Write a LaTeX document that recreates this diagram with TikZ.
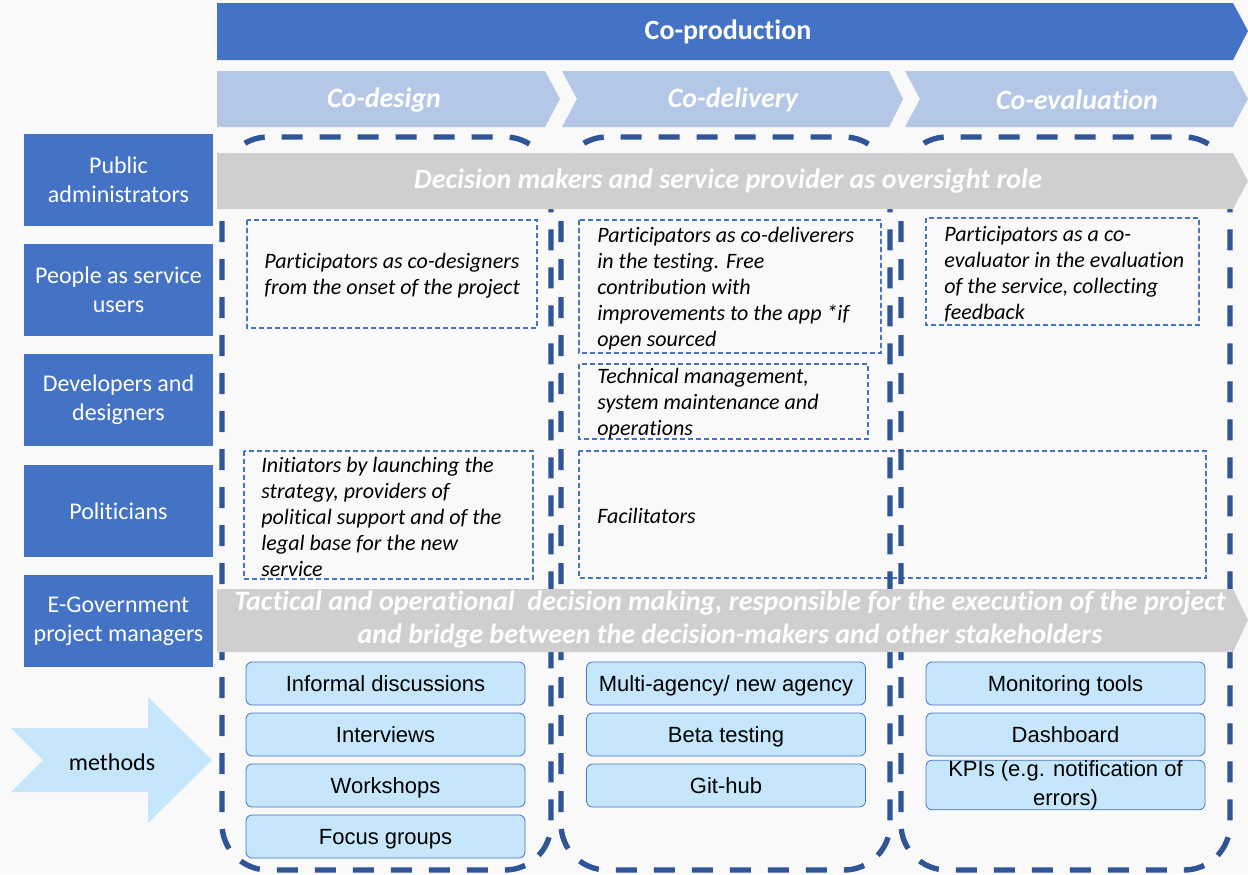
\documentclass[tikz,border=0pt]{standalone}
\usepackage{fontspec}
\setmainfont{Carlito}[Ligatures=NoCommon]
\newfontfamily\arialfont{Liberation Sans}
\definecolor{roleblue}{HTML}{4472C4}
\definecolor{phaseblue}{HTML}{B4C7E7}
\definecolor{bandgrey}{HTML}{D0CECE}
\definecolor{colblue}{HTML}{2F5597}
\definecolor{methblue}{HTML}{C6E7FB}
\definecolor{paper}{HTML}{F9F9F9}
\tikzset{
  rolebox/.style={fill=roleblue, text=white, minimum width=94.5pt, minimum height=46pt,
    inner sep=0pt, align=center, font=\fontsize{12}{14.5}\selectfont},
  phasetext/.style={text=white, inner sep=0pt, font=\fontsize{14}{17}\selectfont\bfseries\itshape},
  bandtext/.style={text=white, inner sep=0pt, align=center, font=\fontsize{14}{16.5}\selectfont\bfseries\itshape},
  colline/.style={draw=colblue, line width=2.7pt, dash pattern=on 10.5pt off 8.5pt, rounded corners=23pt},
  notebox/.style={draw=roleblue, line width=0.6pt, dash pattern=on 2.5pt off 1.5pt},
  notetext/.style={anchor=west, align=left, inner sep=0pt, font=\fontsize{11}{13}\selectfont\itshape},
  methbase/.style={draw=roleblue, fill=methblue, rounded corners=3pt, minimum width=139.5pt,
    minimum height=21.5pt, inner sep=0pt, align=center, font=\arialfont\fontsize{11}{14.5}\selectfont},
  methbox/.style={methbase, text height=7.9pt, text depth=0pt}
}
\begin{document}
\begin{tikzpicture}[x=0.5pt,y=-0.5pt]
\fill[paper] (0,0) rectangle (1248,874);
\useasboundingbox (0,0) rectangle (1248,874);

\draw[notebox] (247,220) rectangle (537,328);
\draw[notebox] (579,220) rectangle (881,353);
\draw[notebox] (926,218) rectangle (1199,325);
\draw[notebox] (579,364) rectangle (868,439);
\draw[notebox] (244,451) rectangle (533,579);
\draw[notebox] (579,451) rectangle (1206,578);
\node[notetext] (users1) at (264,276) {Participators as co-designers\\from the onset of the project};
\node[notetext] (users2) at (597,289) {Participators as co-deliverers\\in the testing. Free\\contribution with\\improvements to the app *if\\open sourced};
\node[notetext] (users3) at (944,274) {Participators as a co-\\evaluator in the evaluation\\of the service, collecting\\feedback};
\node[notetext] (devs2) at (597,403.5) {Technical management,\\system maintenance and\\operations};
\node[notetext] (pol1) at (261,517) {Initiators by launching the\\strategy, providers of\\political support and of the\\legal base for the new\\service};
\node[notetext] (pol2) at (597,516) {Facilitators};

\draw[colline] (222,137) rectangle (551,870);
\draw[colline] (561,137) rectangle (890,870);
\draw[colline] (901,137) rectangle (1230,870);

\fill[bandgrey] (217,153) -- (1233,153) -- (1248,181) -- (1233,209) -- (217,209) -- cycle;
\fill[bandgrey] (217,589) -- (1233,589) -- (1248,620) -- (1233,652) -- (217,652) -- cycle;
\node[bandtext] (oversight) at (728,181) {Decision makers and service provider as oversight role};
\node[bandtext] (tactical) at (730,620) {Tactical and operational\ \ decision making, responsible for the execution of the project\\and bridge between the decision-makers and other stakeholders};

\fill[roleblue] (217,3) -- (1233,3) -- (1248,31) -- (1233,60) -- (217,60) -- cycle;
\node[phasetext, font=\fontsize{14}{17}\selectfont\bfseries] (coprod) at (728,32) {Co-production};
\fill[phaseblue] (217,71) -- (545,71) -- (560,99) -- (545,127) -- (217,127) -- cycle;
\fill[phaseblue] (562,71) -- (889,71) -- (903,99) -- (889,127) -- (562,127) -- (577,99) -- cycle;
\fill[phaseblue] (905,71) -- (1233,71) -- (1248,99) -- (1233,127) -- (905,127) -- (920,99) -- cycle;
\node[phasetext] (codesign) at (384,100) {Co-design};
\node[phasetext] (codelivery) at (733,100) {Co-delivery};
\node[phasetext] (coeval) at (1077,100) {Co-evaluation};

\node[rolebox] (admins) at (118.5,180) {Public\\administrators};
\node[rolebox] (users) at (118.5,290) {People as service\\users};
\node[rolebox] (devs) at (118.5,400) {Developers and\\designers};
\node[rolebox] (politicians) at (118.5,511) {Politicians};
\node[rolebox] (managers) at (118.5,621) {E-Government\\project managers};

\fill[methblue] (11,728) -- (148,728) -- (148,697) -- (212,760) -- (148,823) -- (148,792) -- (11,792) -- (43,760) -- cycle;
\node[font=\fontsize{12}{14.5}\selectfont] (methods) at (112,762) {methods};

\node[methbox] (informal) at (385.5,683.5) {Informal discussions};
\node[methbox] (interviews) at (385.5,734.5) {Interviews};
\node[methbox] (workshops) at (385.5,785.5) {Workshops};
\node[methbox] (focus) at (385.5,836.5) {Focus groups};
\node[methbox] (agency) at (726,683.5) {Multi-agency/ new agency};
\node[methbox] (beta) at (726,734.5) {Beta testing};
\node[methbox] (github) at (726,785.5) {Git-hub};
\node[methbox] (monitoring) at (1065.5,683.5) {Monitoring tools};
\node[methbox] (dashboard) at (1065.5,734.5) {Dashboard};
\node[methbase] (kpis) at (1065.5,785) {KPIs (e.g. notification of\\errors)};
\end{tikzpicture}
\end{document}
